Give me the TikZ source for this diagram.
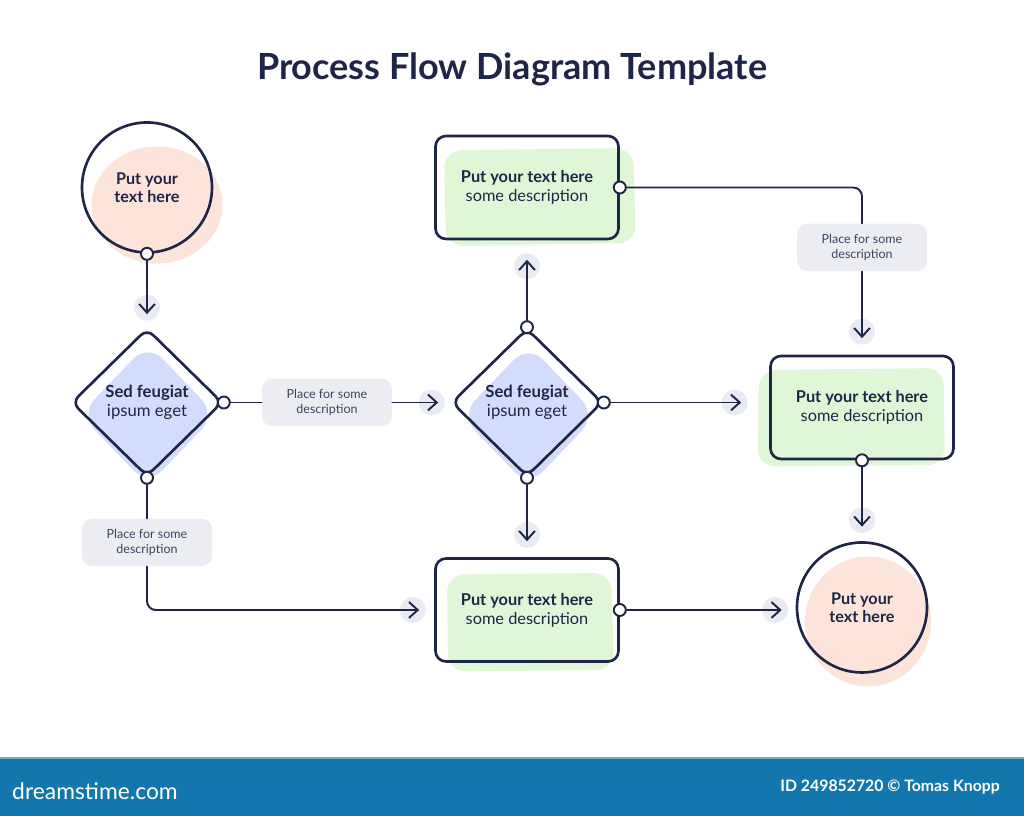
\documentclass[tikz,border=0pt]{standalone}
\usepackage{fontspec}
\setmainfont{Lato}
\usepackage{xcolor}
\usepackage{tikz}
\usetikzlibrary{arrows.meta}
\usetikzlibrary{shapes.geometric}
\usetikzlibrary{backgrounds}

\definecolor{ink}{RGB}{31,37,71}
\definecolor{softink}{RGB}{62,68,96}
\definecolor{pinkblob}{RGB}{252,228,218}
\definecolor{greenblob}{RGB}{223,247,214}
\definecolor{blueblob}{RGB}{211,220,250}
\definecolor{notegray}{RGB}{236,237,243}
\definecolor{dotgray}{RGB}{233,234,242}
\definecolor{banner}{RGB}{19,119,173}

\begin{document}
\begin{tikzpicture}[>={Straight Barb[length=5pt,width=9pt]},node distance=4.3cm,auto]
      \tikzstyle{link} = [draw=ink, line width=1.1pt, line cap=round]
      \tikzstyle{flow} = [link, ->]
      \tikzstyle{round node} = [circle, draw=ink, line width=1.5pt, minimum size=2.6cm, inner sep=0pt,
         align=center, text=ink, font=\bfseries\fontsize{9.2}{10.4}\selectfont]
      \tikzstyle{decision} = [diamond, draw=ink, line width=1.5pt, rounded corners=5pt, minimum width=3.02cm,
         minimum height=2.96cm, inner sep=0pt, align=center, text=ink, font=\fontsize{9.5}{11}\selectfont]
      \tikzstyle{task box} = [rectangle, draw=ink, line width=1.5pt, rounded corners=6pt, minimum width=3.66cm,
         minimum height=2.06cm, align=center, text=ink, font=\fontsize{9.3}{10.8}\selectfont]
      \tikzstyle{note} = [rectangle, fill=notegray, rounded corners=6pt, minimum width=2.6cm, minimum height=0.95cm,
         inner sep=1pt, align=center, text=softink, font=\fontsize{7.1}{8.2}\selectfont]
      \tikzstyle{port} = [circle, draw=ink, fill=white, line width=1.1pt, minimum size=2.4mm, inner sep=0pt]
      \tikzstyle{tip dot} = [circle, fill=dotgray, minimum size=5.2mm, inner sep=0pt]
      \useasboundingbox (0,0) rectangle (20.48,16.32);

      %title
      \node[text=ink, font=\bfseries\fontsize{20.5}{24}\selectfont] (title) at (10.24,14.93) {Process Flow Diagram Template};

      %nodes
      \node[round node]  (start)    at (2.94,12.57)                     {Put your\\text here};
      \node[decision]    (dec1)     [below of=start]                    {\textbf{Sed feugiat}\\ipsum eget};
      \node[note]        (note1)    [right of=dec1, xshift=-7mm]        {Place for some\\description};
      \node[note]        (note2)    [below of=dec1, yshift=15mm]        {Place for some\\description};
      \node[decision]    (dec2)     [right of=dec1, xshift=33mm]        {\textbf{Sed feugiat}\\ipsum eget};
      \node[task box]    (topbox)   [above of=dec2]                     {\textbf{Put your text here}\\some description};
      \node[task box]    (botbox)   [below of=dec2, yshift=1.5mm]       {\textbf{Put your text here}\\some description};
      \node[task box]    (rightbox) [right of=dec2, xshift=24mm, yshift=-1mm] {\textbf{Put your text here}\\some description};
      \node[note]        (note3)    [above of=rightbox, yshift=-11mm]   {Place for some\\description};
      \node[round node]  (endc)     [below of=rightbox, yshift=3mm]     {Put your\\text here};

      %arrow ends
      \coordinate (t1) at ([yshift=2.6mm]dec1.north);
      \coordinate (t2) at ([xshift=-2.4mm]dec2.west);
      \coordinate (t3) at ([xshift=-3mm]botbox.west);
      \coordinate (t4) at ([yshift=-3.9mm]topbox.south);
      \coordinate[xshift=-5.6mm] (t5) at (rightbox.west |- dec2.east);
      \coordinate (t6) at ([yshift=3.2mm]botbox.north);
      \coordinate (t7) at ([yshift=3.3mm]rightbox.north);
      \coordinate (t8) at ([yshift=2.9mm]endc.north);
      \coordinate[xshift=-2.8mm] (t9) at (endc.west |- botbox.east);

      %blobs and dots
      \begin{scope}[on background layer]
        \fill[pinkblob] ([xshift=2mm,yshift=-3.5mm]start.center) ellipse [x radius=1.31cm, y radius=1.17cm];
        \fill[pinkblob] ([xshift=1.2mm,yshift=-2.8mm]endc.center) ellipse [x radius=1.26cm, y radius=1.3cm];
        \fill[blueblob, rounded corners=12pt] ([shift={(0.02,-0.24)}]dec1.center) +(0,1.42) -- +(1.36,0) -- +(0,-1.42) -- +(-1.36,0) -- cycle;
        \fill[blueblob, rounded corners=12pt] ([shift={(0.03,-0.26)}]dec2.center) +(0,1.42) -- +(1.36,0) -- +(0,-1.42) -- +(-1.36,0) -- cycle;
        \fill[greenblob, rounded corners=10pt] ([shift={(0.24,-0.19)}]topbox.center) +(-1.9,0.93) -- +(1.88,0.98) -- +(1.94,-0.92) -- +(-1.86,-0.98) -- cycle;
        \fill[greenblob, rounded corners=10pt] ([shift={(-0.21,-0.2)}]rightbox.center) +(-1.85,0.95) -- +(1.84,0.99) -- +(1.87,-0.95) -- +(-1.88,-0.98) -- cycle;
        \fill[greenblob, rounded corners=10pt] ([shift={(0.06,-0.24)}]botbox.center) +(-1.66,0.95) -- +(1.62,0.98) -- +(1.68,-0.96) -- +(-1.64,-0.99) -- cycle;
        \node[tip dot] (d1) at ([yshift=1.3mm]t1) {};
        \node[tip dot] (d2) at ([xshift=-1.3mm]t2) {};
        \node[tip dot] (d3) at ([xshift=-1.3mm]t3) {};
        \node[tip dot] (d4) at ([yshift=-1.3mm]t4) {};
        \node[tip dot] (d5) at ([xshift=-1.3mm]t5) {};
        \node[tip dot] (d6) at ([yshift=1.3mm]t6) {};
        \node[tip dot] (d7) at ([yshift=1.3mm]t7) {};
        \node[tip dot] (d8) at ([yshift=1.3mm]t8) {};
        \node[tip dot] (d9) at ([xshift=-1.3mm]t9) {};
      \end{scope}

      %ports
      \node[port] (p1) at (start.south) {};
      \node[port] (p2) at (dec1.east) {};
      \node[port] (p3) at (dec1.south) {};
      \node[port] (p4) at (dec2.north) {};
      \node[port] (p5) at (dec2.east) {};
      \node[port] (p6) at (dec2.south) {};
      \node[port] (p7) at (topbox.east) {};
      \node[port] (p8) at (rightbox.south) {};
      \node[port] (p9) at (botbox.east) {};

      %lines
      \draw[flow] (p1) -- (t1);
      \draw[link] (p2) -- (note1);
      \draw[flow] (note1) -- (t2);
      \draw[link] (p3) -- (note2);
      \draw[flow, rounded corners=5pt] (note2) |- (t3);
      \draw[flow] (p4) -- (t4);
      \draw[flow] (p5) -- (t5);
      \draw[flow] (p6) -- (t6);
      \draw[link, rounded corners=5pt] (p7) -| (note3);
      \draw[flow] (note3) -- (t7);
      \draw[flow] (p8) -- (t8);
      \draw[flow] (p9) -- (t9);

      %banner
      \fill[banner] (0,0) rectangle (20.48,1.16);
      \draw[banner!60!white, line width=0.6pt] (0,1.16) -- (20.48,1.16);
      \node[anchor=west, text=white, font=\fontsize{13}{15}\selectfont] (brand) at (0.12,0.5) {dreamstime.com};
      \node[anchor=east, text=white, font=\bfseries\fontsize{9}{11}\selectfont] (credit) at (20.12,0.58) {ID 249852720 © Tomas Knopp};
    \end{tikzpicture}
\end{document}
